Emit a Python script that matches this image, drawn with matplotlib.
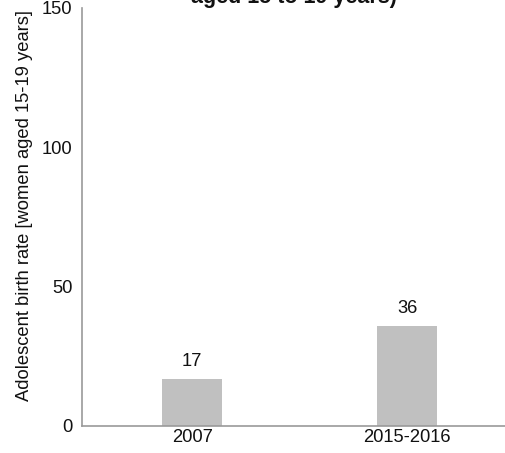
import matplotlib
matplotlib.use("Agg")
import matplotlib.pyplot as plt

plt.rcParams['font.family'] = ['Liberation Sans', 'DejaVu Sans']

categories = ["2007", "2015-2016"]
values = [17, 36]
yticks = [0, 50, 100, 150]

title = "Adolescent birth rate (per 1000 women\naged 15 to 19 years)"
ylabel = "Adolescent birth rate [women aged 15-19 years]"

FS = 13.2

fig = plt.figure(figsize=(5.06, 4.53), dpi=100)
ax = fig.add_axes([82 / 506, 27 / 453, 424 / 506, 418 / 453])

x = list(range(len(categories)))
ax.bar(x, values, width=0.28, color="#c0c0c0", zorder=2)
for xi, v in zip(x, values):
    ax.annotate(f"{v}", (xi, v), xytext=(0, 6), textcoords="offset points",
                ha="center", va="bottom", fontsize=FS, color="#111111")

ax.set_xlim(-0.512, 1.46)
ax.set_ylim(0, 150)
ax.set_xticks(x)
ax.set_xticklabels(categories, fontsize=FS, color="#111111")
ax.set_yticks(yticks)
ax.set_yticklabels([str(t) for t in yticks], fontsize=FS, color="#111111")
ax.tick_params(axis="both", length=0)
ax.tick_params(axis="x", pad=2)
ax.tick_params(axis="y", pad=7)

for side in ("top", "right"):
    ax.spines[side].set_visible(False)
for side in ("left", "bottom"):
    ax.spines[side].set_color("#999999")
    ax.spines[side].set_linewidth(1.2)

ax.set_ylabel(ylabel, fontsize=FS, color="#111111", va="center")
ax.yaxis.set_label_coords(-0.136, 0.527)

fig.text((82 + 506) / 2 / 506, 1 - 8 / 453, title, ha="center", va="bottom",
         fontsize=15.5, fontweight="bold", color="#111111", linespacing=1.1)

fig.savefig("out.png", dpi=100)
